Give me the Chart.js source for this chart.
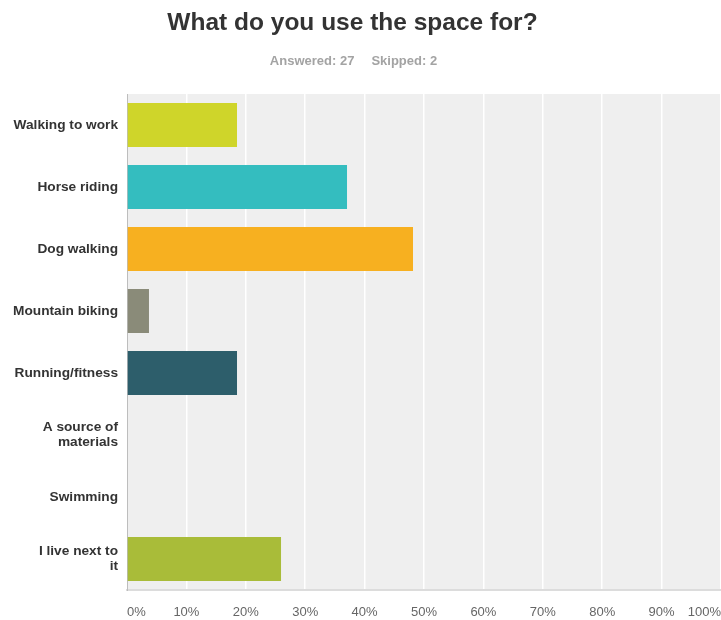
<!DOCTYPE html>
<html>
<head>
<meta charset="utf-8">
<script src="https://cdn.jsdelivr.net/npm/chart.js@4"></script>
<style>
  html, body { margin: 0; padding: 0; background: #fff; overflow: hidden; }
  #wrap { position: relative; width: 721px; height: 620px; }
  #title {
    position: absolute; left: 0; width: 705px; top: 8px; text-align: center;
    font: bold 24.5px "Liberation Sans", Arial, sans-serif; color: #333;
  }
  #sub {
    position: absolute; left: 0; width: 707px; top: 53px; text-align: center;
    font: bold 13px "Liberation Sans", Arial, sans-serif; color: #a3a3a3;
  }
  #sub span + span { margin-left: 17px; }
  #chartBox { position: absolute; left: 0; top: 0; width: 721px; height: 620px; }
</style>
</head>
<body>
<div id="wrap">
  <div id="chartBox"><canvas id="answersChart"></canvas></div>
  <div id="title">What do you use the space for?</div>
  <div id="sub"><span>Answered: 27</span><span>Skipped: 2</span></div>
</div>
<script>
const categories = [
  'Walking to work',
  'Horse riding',
  'Dog walking',
  'Mountain biking',
  'Running/fitness',
  ['A source of', 'materials'],
  'Swimming',
  ['I live next to', 'it']
];
// share of respondents, in percent
const responses = [18.52, 37.04, 48.15, 3.70, 18.52, 0, 0, 25.93];
const barColors = ['#cfd52a', '#34bdbf', '#f7b020', '#8a8b79', '#2d5e6b', '#6a8fb0', '#b0b0b0', '#a9bc39'];
const xTicks = [0, 10, 20, 30, 40, 50, 60, 70, 80, 90, 100];

// grey plot background behind the bars
const plotBackground = {
  id: 'plotBackground',
  beforeDraw(chart) {
    const { ctx, chartArea: a } = chart;
    ctx.save();
    ctx.fillStyle = '#efefef';
    ctx.fillRect(a.left, a.top, a.right - a.left, a.bottom - a.top);
    ctx.restore();
  }
};

const ctx = document.getElementById('answersChart').getContext('2d');
new Chart(ctx, {
  type: 'bar',
  data: {
    labels: categories,
    datasets: [{
      data: responses,
      backgroundColor: barColors,
      borderWidth: 0,
      barPercentage: 0.71,
      categoryPercentage: 1
    }]
  },
  plugins: [plotBackground],
  options: {
    indexAxis: 'y',
    responsive: true,
    maintainAspectRatio: false,
    animation: false,
    layout: { padding: { top: 94, right: 0, left: 0, bottom: 0 } },
    plugins: {
      legend: { display: false },
      tooltip: { enabled: false }
    },
    scales: {
      x: {
        min: 0,
        max: 100,
        afterBuildTicks(scale) { scale.ticks = xTicks.map(v => ({ value: v })); },
        afterFit(scale) {
          scale.height = 30;
          // let the last gridline sit on the right edge
          scale.paddingLeft = 0;
          scale.paddingRight = 0;
        },
        grid: { color: '#ffffff', lineWidth: 1.5, drawTicks: false },
        border: { color: '#dcdcdc', width: 2 },
        ticks: {
          align: 'inner',
          padding: 15,
          color: '#666',
          font: { family: '"Liberation Sans", Arial, sans-serif', size: 13 },
          callback: v => v + '%'
        }
      },
      y: {
        afterFit(scale) { scale.width = 127; },
        grid: { display: false, drawTicks: false },
        border: { color: '#bdbdbd', width: 1 },
        ticks: {
          padding: 9,
          color: '#333',
          font: { family: '"Liberation Sans", Arial, sans-serif', size: 13.7, weight: 'bold', lineHeight: '15.3px' }
        }
      }
    }
  }
});
</script>
</body>
</html>
